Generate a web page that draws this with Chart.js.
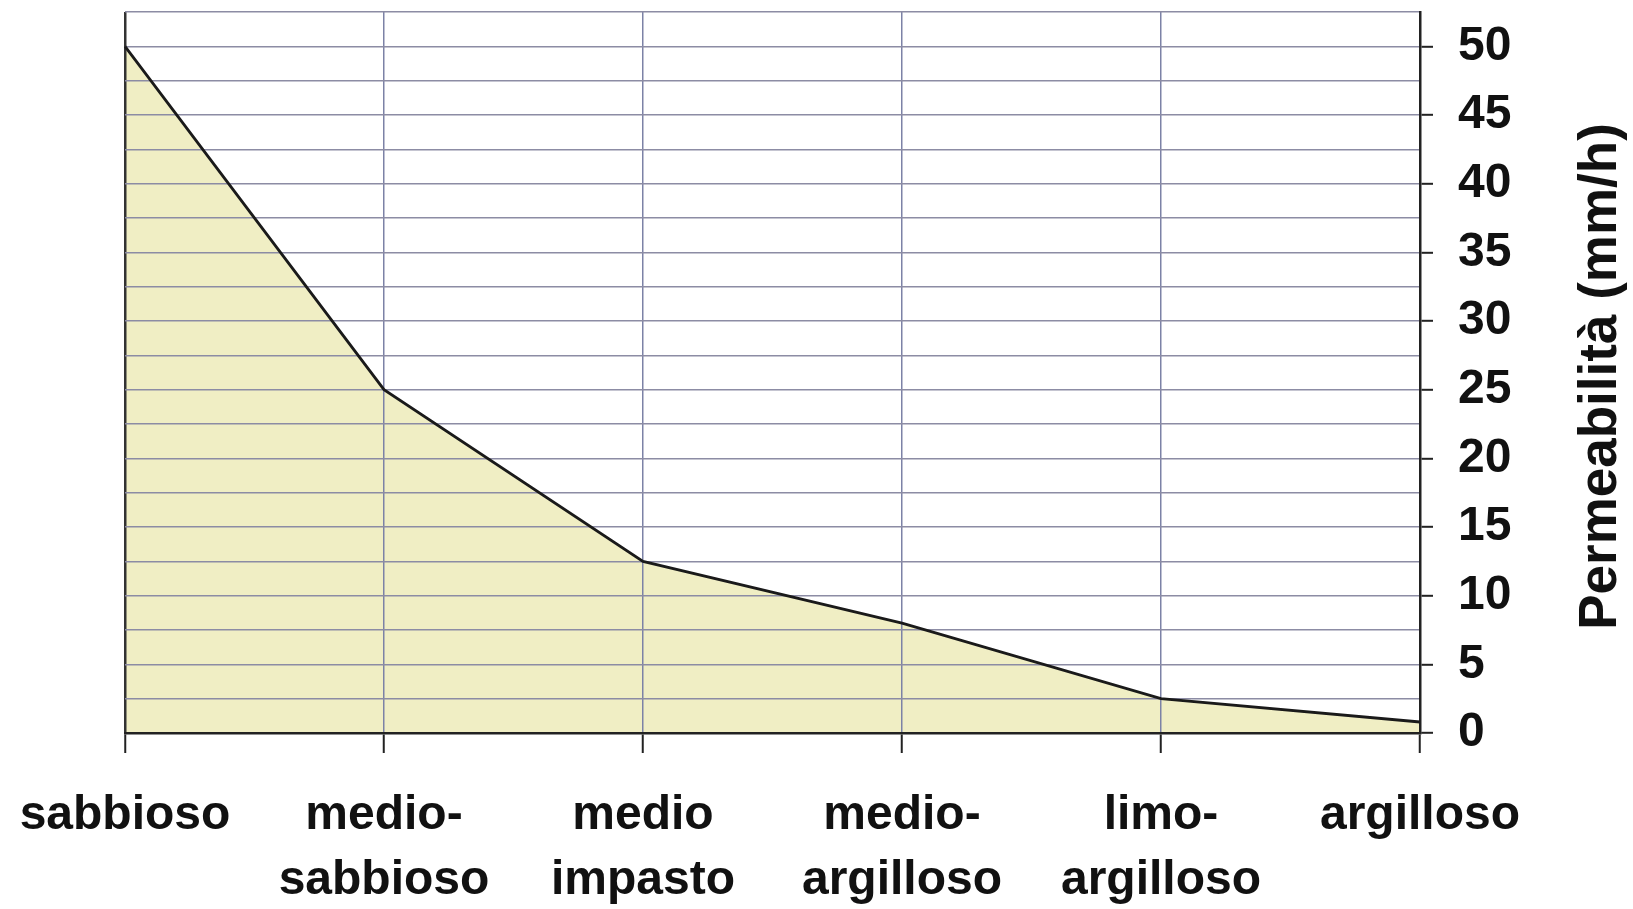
<!DOCTYPE html>
<html>
<head>
<meta charset="utf-8">
<title>Permeabilità</title>
<script src="https://cdn.jsdelivr.net/npm/chart.js@4/dist/chart.umd.min.js"></script>
<style>
  body { margin: 0; background: #fff; }
  #wrap { width: 1633px; height: 909px; position: relative; }
</style>
</head>
<body>
<div id="wrap"><canvas id="grafico"></canvas></div>
<script>
// dati
var tessiture = ["sabbioso", ["medio-", "sabbioso"], ["medio", "impasto"], ["medio-", "argilloso"], ["limo-", "argilloso"], "argilloso"];
var permeabilita = [50, 25, 12.5, 8, 2.5, 0.8];
var yMax = 52.5;
var yStep = 2.5;      // righe della griglia
var yLabelStep = 5;   // numeri sull'asse
var yTitolo = "Permeabilità (mm/h)";

Chart.defaults.font.family = '"Liberation Sans", Arial, sans-serif';
Chart.defaults.color = "#111";

function isMajor(v){ return Math.abs(v / yLabelStep - Math.round(v / yLabelStep)) < 1e-6; }

// titolo asse y ruotato come nell'originale (dal basso verso l'alto)
var titoloY = {
  id: "titoloY",
  afterDraw: function(chart){
    var ctx = chart.ctx, sc = chart.scales.y, area = chart.chartArea;
    ctx.save();
    ctx.translate(sc.right - 32, (area.top + area.bottom) / 2 + 4);
    ctx.rotate(-Math.PI / 2);
    ctx.font = 'bold 53px "Liberation Sans", Arial, sans-serif';
    ctx.fillStyle = "#111";
    ctx.textAlign = "center";
    ctx.textBaseline = "middle";
    ctx.fillText(yTitolo, 0, 0);
    ctx.restore();
  }
};

var ctx = document.getElementById("grafico").getContext("2d");
var chart = new Chart(ctx, {
  type: "line",
  data: {
    labels: tessiture,
    datasets: [{
      label: "Permeabilità",
      data: permeabilita,
      borderColor: "#1a1a1a",
      borderWidth: 2.8,
      backgroundColor: "rgb(240,238,196)",
      fill: "origin",
      tension: 0,
      pointRadius: 0
    }]
  },
  plugins: [titoloY],
  options: {
    responsive: true,
    maintainAspectRatio: false,
    animation: false,
    layout: { padding: { left: 125, top: 12, right: 0, bottom: 0 } },
    plugins: {
      legend: { display: false },
      tooltip: { enabled: false },
      filler: { drawTime: "beforeDraw" }
    },
    scales: {
      x: {
        offset: false,
        border: { color: "#222", width: 2.5 },
        grid: {
          color: function(c){ return c.index === 0 ? "#333" : "#7c82a6"; },
          lineWidth: function(c){ return c.index === 0 ? 2.5 : 1.5; },
          tickColor: "#222",
          tickWidth: 2,
          tickLength: 20
        },
        ticks: {
          autoSkip: false,
          maxRotation: 0,
          padding: 30,
          font: { size: 48, weight: "bold", lineHeight: 1.36 }
        },
        afterFit: function(s){ s.height = 176; s.paddingLeft = 0; s.paddingRight = 0; }
      },
      y: {
        position: "right",
        min: 0,
        max: yMax,
        border: { color: "#222", width: 2.5 },
        grid: {
          color: "#8c8ca4",
          lineWidth: 1.6,
          tickLength: 13,
          tickWidth: 2,
          tickColor: function(c){ return c.tick && isMajor(c.tick.value) ? "#222" : "rgba(0,0,0,0)"; }
        },
        ticks: {
          stepSize: yStep,
          autoSkip: false,
          padding: 25,
          font: { size: 48, weight: "bold" },
          callback: function(v){ return isMajor(v) ? String(Math.round(v)) : ""; }
        },
        afterFit: function(s){ s.width = 213; s.paddingTop = 0; s.paddingBottom = 0; }
      }
    }
  }
});
</script>
</body>
</html>
